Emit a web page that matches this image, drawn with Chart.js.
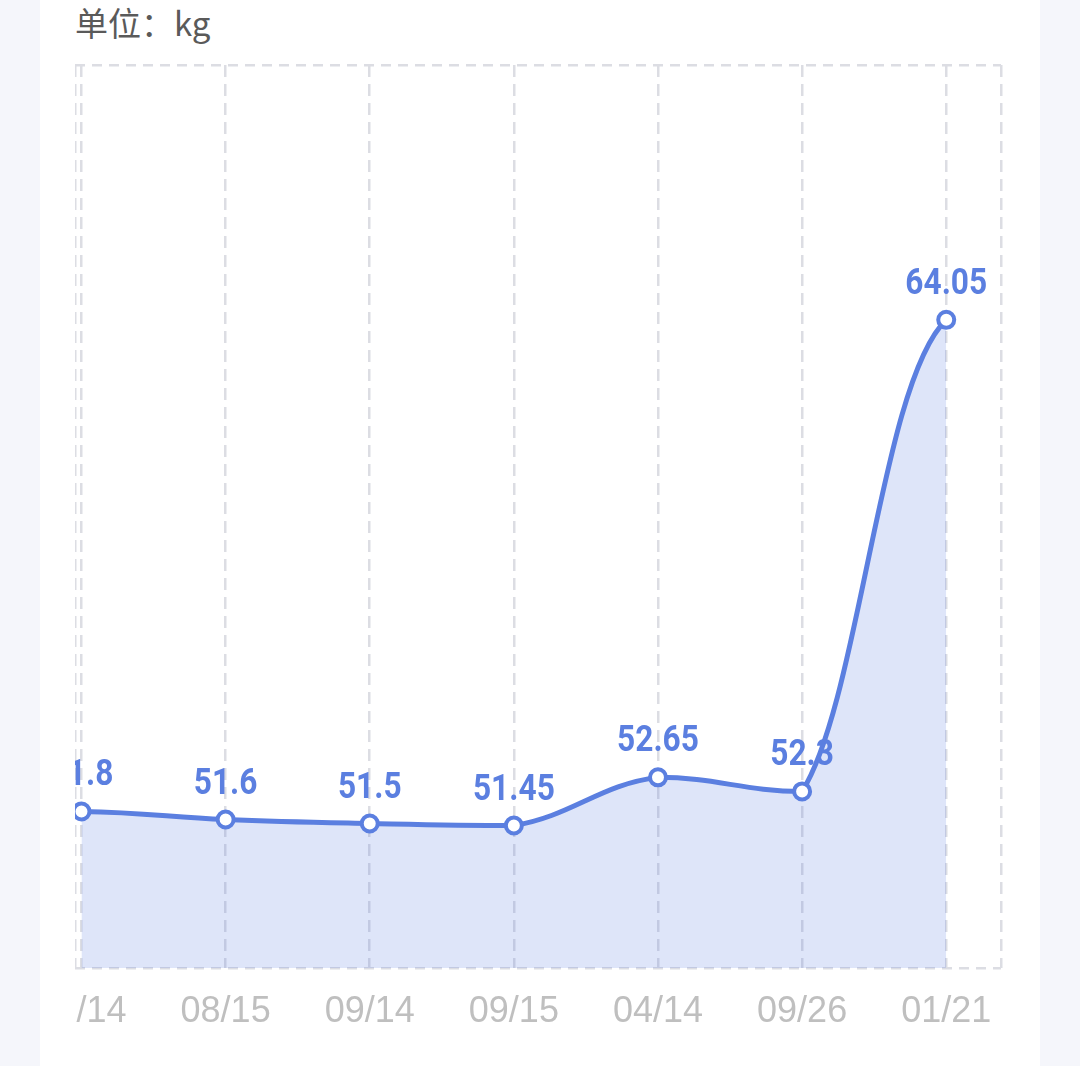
<!DOCTYPE html>
<html>
<head>
<meta charset="utf-8">
<script src="https://cdn.jsdelivr.net/npm/chart.js@4"></script>
<style>
  html, body { margin: 0; padding: 0; }
  body { width: 1080px; height: 1066px; background: #f5f6fb; position: relative; overflow: hidden; }
  .card { position: absolute; left: 40px; top: 0; width: 1000px; height: 1066px; background: #fff; }
  .unit { position: absolute; left: 75px; top: 1px; font: 33px "Noto Sans CJK SC", sans-serif; line-height: 42px; color: #5a5a5a; }
  .wrap { position: absolute; left: 75px; top: 50px; width: 965px; height: 1016px; }
</style>
</head>
<body>
<div class="card"></div>
<div class="unit">单位：kg</div>
<div class="wrap"><canvas id="weightChart"></canvas></div>
<script>
// dates and weights (first one is scrolled half out of view)
const dates = ['08/14', '08/15', '09/14', '09/15', '04/14', '09/26', '01/21'];
const weights = [51.8, 51.6, 51.5, 51.45, 52.65, 52.3, 64.05];

const yMin = 47.9;
const yMax = 70.4;
const xMin = -0.045;
const xMax = 6.38;

const blue = '#5b7fe0';
const gridColor = '#dcdde3';

// value labels above each point
const valueLabels = {
  id: 'valueLabels',
  afterDatasetsDraw(chart) {
    const ctx = chart.ctx;
    const meta = chart.getDatasetMeta(0);
    ctx.save();
    ctx.font = 'bold 36px Roboto, sans-serif';
    ctx.fillStyle = blue;
    ctx.textAlign = 'center';
    ctx.textBaseline = 'alphabetic';
    meta.data.forEach((pt, i) => {
      ctx.save();
      ctx.translate(pt.x, pt.y - 26);
      ctx.scale(0.88, 1);
      ctx.fillText(String(weights[i]), 0, 0);
      ctx.restore();
    });
    ctx.restore();
  }
};

// control points like the app's own smoothing: neighbour based, kept inside each segment's y range
const segmentCurve = {
  id: 'segmentCurve',
  afterDatasetsUpdate(chart) {
    const meta = chart.getDatasetMeta(0);
    const pts = meta.data;
    const k = 0.2;
    const n = pts.length;
    for (let i = 0; i < n - 1; i++) {
      const p0 = pts[i], p1 = pts[i + 1];
      const lo = Math.min(p0.y, p1.y), hi = Math.max(p0.y, p1.y);
      let ax, ay, bx, by;
      if (i === 0) {
        ax = p0.x + (p1.x - p0.x) * 0.45;
        ay = p0.y + (p1.y - p0.y) * 0.13;
      } else {
        ax = p0.x + (p1.x - pts[i - 1].x) * k;
        ay = p0.y + (p1.y - pts[i - 1].y) * k;
      }
      if (i === n - 2) {
        // end of the line eases into the last point
        bx = p1.x - (p1.x - p0.x) * 0.45;
        by = p1.y - (p1.y - p0.y) * 0.13;
      } else {
        bx = p1.x - (pts[i + 2].x - p0.x) * k;
        by = p1.y - (pts[i + 2].y - p0.y) * k;
      }
      if (ay >= hi || ay <= lo) ay = p0.y;
      if (by >= hi || by <= lo) by = p1.y;
      p0.cp2x = ax; p0.cp2y = ay;
      p1.cp1x = bx; p1.cp1y = by;
    }
    pts[0].cp1x = pts[0].x; pts[0].cp1y = pts[0].y;
    pts[n - 1].cp2x = pts[n - 1].x; pts[n - 1].cp2y = pts[n - 1].y;
    meta.dataset._pointsUpdated = true;
  }
};

const ctx = document.getElementById('weightChart').getContext('2d');
const weightChart = new Chart(ctx, {
  type: 'line',
  data: {
    datasets: [{
      data: weights.map((w, i) => ({ x: i, y: w })),
      borderColor: blue,
      borderWidth: 5,
      backgroundColor: 'rgba(91,127,224,0.2)',
      fill: 'start',
      tension: 0.4,
      pointRadius: 8,
      pointBorderWidth: 4,
      pointBackgroundColor: '#fff',
      pointBorderColor: blue
    }]
  },
  options: {
    responsive: true,
    maintainAspectRatio: false,
    animation: false,
    layout: {
      autoPadding: false,
      padding: { top: 15, right: 39, left: 0, bottom: 0 }
    },
    plugins: {
      legend: { display: false },
      tooltip: { enabled: false }
    },
    scales: {
      x: {
        type: 'linear',
        min: xMin,
        max: xMax,
        afterBuildTicks: function(scale) {
          const ticks = [{ value: xMin }];
          dates.forEach((d, i) => ticks.push({ value: i }));
          ticks.push({ value: xMax });
          scale.ticks = ticks;
        },
        afterFit: function(scale) {
          scale.height = 98;
          scale.paddingLeft = 0;
          scale.paddingRight = 0;
        },
        ticks: {
          autoSkip: false,
          maxRotation: 0,
          padding: 22,
          color: '#bfbfbf',
          font: { size: 36, family: 'Liberation Sans, Arial, sans-serif' },
          callback: function(value) {
            return Number.isInteger(value) ? dates[value] : '';
          }
        },
        grid: {
          color: gridColor,
          lineWidth: 2.5,
          drawTicks: false
        },
        border: { display: false, dash: [12, 7] }
      },
      y: {
        min: yMin,
        max: yMax,
        afterBuildTicks: function(scale) {
          scale.ticks = [{ value: yMin }, { value: yMax }];
        },
        afterFit: function(scale) {
          scale.width = 0;
        },
        ticks: { display: false },
        grid: {
          color: gridColor,
          lineWidth: 2.5,
          drawTicks: false
        },
        border: { display: false, dash: [10, 7] }
      }
    }
  },
  plugins: [segmentCurve, valueLabels]
});
</script>
</body>
</html>
